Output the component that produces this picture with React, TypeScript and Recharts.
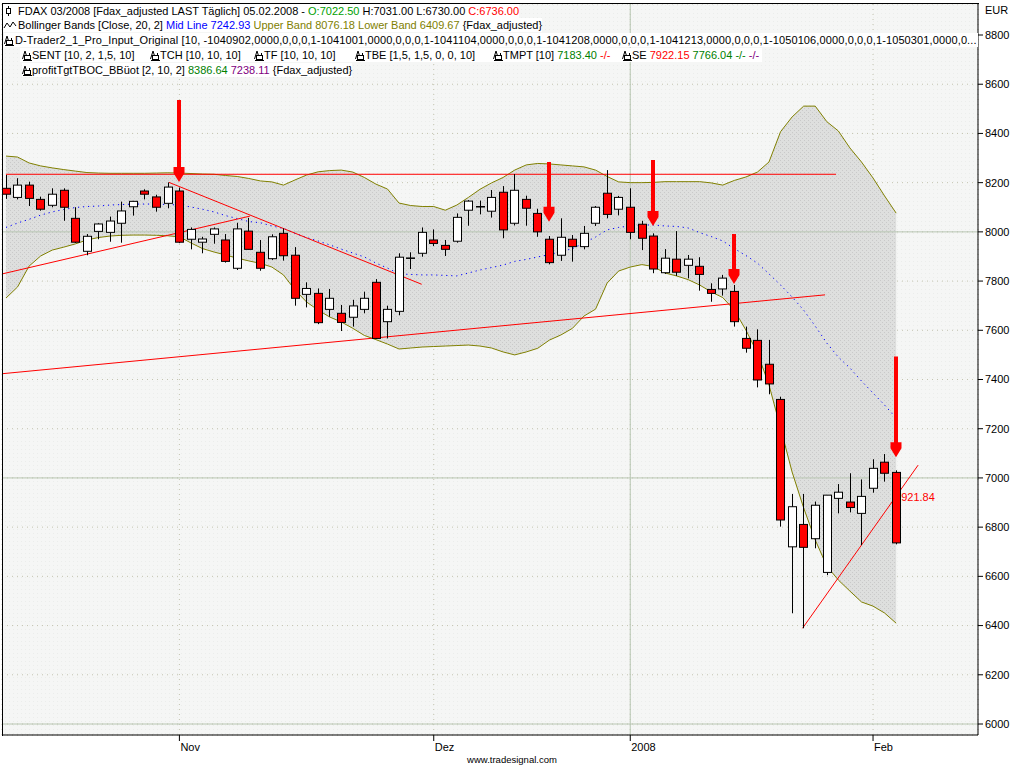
import React from "react";
import {
  ComposedChart,
  Bar,
  Line,
  Area,
  XAxis,
  YAxis,
  CartesianGrid,
  ReferenceLine,
  ReferenceDot,
} from "recharts";

// FDAX 03/2008 daily bars, 11 Oct 2007 .. 05 Feb 2008
const opens = [
  8177, 8140, 8190, 8132, 8108, 8169, 8055, 7921, 8002, 7998, 8035, 8102, 8166, 8142, 8116, 8166,
  7970, 7958, 7990, 7967, 7852, 8003, 7917, 7891, 7994, 7905, 7746, 7750, 7685, 7669, 7653, 7685,
  7795, 7635, 7677, 7894, 7913, 7967, 7945, 7962, 8088, 8103, 8084, 8161, 8035, 8132, 8075, 7970,
  7905, 7970, 7940, 8035, 8157, 8092, 8100, 8031, 7983, 7834, 7889, 7864, 7860, 7766, 7768, 7758,
  7567, 7559, 7462, 7319, 6720, 6811, 6753, 6616, 6917, 6902, 6856, 6958, 7064, 7022.5,
];
const highs = [
  8231, 8218, 8204, 8143, 8177, 8177, 8100, 7991, 8035, 8062, 8123, 8126, 8173, 8151, 8201, 8180,
  8018, 7980, 8018, 7991, 8037, 8057, 7967, 7990, 8014, 7938, 7795, 7770, 7768, 7703, 7724, 7757,
  7808, 7700, 7913, 7917, 8018, 8010, 7967, 8075, 8129, 8127, 8170, 8186, 8235, 8147, 8094, 7983,
  8055, 7987, 8024, 8105, 8251, 8146, 8177, 8045, 7994, 7930, 8003, 7906, 7897, 7791, 7825, 7784,
  7615, 7604, 7561, 7330, 6935, 6935, 6904, 6930, 6975, 7019, 6994, 7076, 7097, 7031,
];
const lows = [
  8134, 8132, 8105, 8086, 8100, 8045, 7955, 7905, 7970, 7960, 7956, 8066, 8132, 8082, 8096, 7954,
  7929, 7913, 7952, 7875, 7845, 7929, 7842, 7886, 7883, 7700, 7693, 7625, 7655, 7597, 7615, 7669,
  7565, 7567, 7661, 7849, 7899, 7942, 7902, 7956, 8025, 8071, 8058, 7974, 8026, 8025, 7980, 7868,
  7882, 7879, 7929, 8024, 8055, 8067, 7970, 7926, 7832, 7829, 7821, 7811, 7761, 7716, 7741, 7615,
  7509, 7368, 7340, 6802, 6450, 6389, 6714, 6605, 6856, 6860, 6727, 6940, 6985, 6730,
];
const closes = [
  8153, 8190, 8136, 8092, 8153, 8100, 7958, 7982, 8032, 8044, 8085, 8124, 8153, 8100, 8182, 7958,
  8010, 7971, 8012, 7880, 8012, 7929, 7852, 7980, 7903, 7730, 7770, 7631, 7730, 7632, 7699, 7730,
  7567, 7685, 7897, 7894, 7998, 7953, 7929, 8059, 8125, 8103, 8140, 8008, 8169, 8096, 8000, 7875,
  7978, 7940, 7994, 8100, 8071, 8140, 7998, 7974, 7849, 7893, 7836, 7889, 7827, 7750, 7812, 7635,
  7527, 7398, 7382, 6829, 6883, 6718, 6889, 6930, 6942, 6880, 6925, 7039, 7019, 6736,
];

// Bollinger Bands [Close, 20, 2]
const upperBand = [
  8308, 8304, 8280, 8268, 8260, 8253, 8247, 8241, 8239, 8238, 8238, 8238, 8238, 8239, 8240, 8239,
  8237, 8235, 8234, 8229, 8225, 8217, 8207, 8203, 8190, 8211, 8231, 8244, 8249, 8251, 8243, 8221,
  8194, 8174, 8117, 8107, 8103, 8103, 8088, 8109, 8140, 8173, 8199, 8221, 8251, 8272, 8278, 8276,
  8272, 8268, 8264, 8251, 8225, 8203, 8200, 8200, 8201, 8204, 8204, 8204, 8204, 8199, 8190, 8209,
  8223, 8243, 8284, 8407, 8467, 8511, 8511, 8448, 8410, 8341, 8284, 8219, 8146, 8076.18,
];
const lowerBand = [
  7731, 7776, 7861, 7902, 7926, 7938, 7951, 7967, 7977, 7983, 7986, 7987, 7987, 7986, 7984, 7980,
  7955, 7932, 7918, 7906, 7893, 7882, 7872, 7857, 7825, 7764, 7715, 7682, 7654, 7634, 7608, 7579,
  7562, 7544, 7524, 7528, 7532, 7534, 7536, 7538, 7540, 7536, 7528, 7512, 7500, 7512, 7527, 7560,
  7581, 7608, 7658, 7686, 7792, 7841, 7857, 7867, 7859, 7833, 7821, 7806, 7784, 7756, 7733, 7682,
  7601, 7508, 7378, 7203, 7024, 6878, 6748, 6642, 6585, 6540, 6496, 6479, 6451, 6409.67,
];
const midLine = [
  8018, 8036, 8051, 8068, 8081, 8091, 8099, 8103, 8105, 8109, 8111, 8113, 8113, 8113, 8111, 8109,
  8101, 8092, 8081, 8066, 8054, 8042, 8037, 8024, 8014, 7994, 7977, 7963, 7947, 7930, 7914, 7898,
  7873, 7853, 7829, 7827, 7825, 7825, 7823, 7821, 7833, 7845, 7855, 7865, 7880, 7888, 7898, 7908,
  7919, 7932, 7955, 7979, 8008, 8018, 8024, 8028, 8028, 8024, 8022, 8016, 7997, 7981, 7963, 7932,
  7904, 7873, 7829, 7784, 7735, 7682, 7617, 7548, 7491, 7447, 7394, 7345, 7296, 7242.93,
];

// signal arrows: bar index, arrow tip price, arrow tail price
const arrowBars = [15, 47, 56, 63, 77];
const arrowTips = [8203, 8041, 8024, 7788, 7084];
const arrowTails = [8536, 8284, 8292, 7991, 7493];

// drawn trend lines: [bar, price] -> [bar, price]
const trendFrom = [[0, 8234], [-0.34, 7829], [14.1, 8201], [-0.34, 7423.5], [68.9, 6389]];
const trendTo = [[71.8, 8234], [21.1, 8064], [35.96, 7787], [70.85, 7744], [78.9, 7052]];

const monthTicks = [15, 37, 54, 75];
const monthLabels = ["Nov", "Dez", "2008", "Feb"];
const priceTicks = [6000, 6200, 6400, 6600, 6800, 7000, 7200, 7400, 7600, 7800, 8000, 8200, 8400, 8600, 8800];
const solidPrices = [8000, 7000, 6000];

const data = opens.map((o, i) => {
  const a = arrowBars.indexOf(i);
  return {
    i,
    o,
    h: highs[i],
    l: lows[i],
    c: closes[i],
    up: upperBand[i],
    lo: lowerBand[i],
    mid: midLine[i],
    arrow: a >= 0 ? [arrowTips[a], arrowTails[a]] : null,
  };
});

const FONT = '"Liberation Sans", Arial, sans-serif';
const X_DOMAIN: [number, number] = [-0.346, 84.08];
const Y_DOMAIN: [number, number] = [5955.3, 8926];

const GREEN = "#008000";
const RED = "#ff0000";
const BLUE = "#0000ff";
const OLIVE = "#808000";
const PURPLE = "#800080";

function Candle(props: any) {
  const { x, y, width, height, payload } = props;
  if (!payload || y == null || isNaN(y)) return null;
  const top = Math.min(y, y + height);
  const bot = Math.max(y, y + height);
  const { o, h, l, c } = payload;
  const k = (bot - top) / (h - l);
  const py = (p: number) => top + (h - p) * k;
  const cx = Math.round(x + width / 2) + 0.5;
  const bTop = py(Math.max(o, c));
  const bBot = py(Math.min(o, c));
  const up = c >= o;
  return (
    <g>
      <line x1={cx} x2={cx} y1={top} y2={bot} stroke="#000" strokeWidth={1} />
      <rect
        x={cx - 4}
        y={bTop}
        width={8}
        height={Math.max(bBot - bTop, 0.5)}
        fill={up ? "#fff" : RED}
        stroke="#000"
        strokeWidth={1}
      />
    </g>
  );
}

function Arrow(props: any) {
  const { x, y, width, height, payload } = props;
  if (!payload || !payload.arrow || y == null || isNaN(y)) return null;
  const top = Math.min(y, y + height);
  const tip = Math.max(y, y + height);
  const cx = Math.round(x + width / 2);
  const pts = [
    [cx - 2, top],
    [cx + 2, top],
    [cx + 2, tip - 15],
    [cx + 5.5, tip - 15],
    [cx + 5.5, tip - 9],
    [cx, tip],
    [cx - 5.5, tip - 9],
    [cx - 5.5, tip - 15],
    [cx - 2, tip - 15],
  ]
    .map((p) => p.join(","))
    .join(" ");
  return <polygon points={pts} fill={RED} />;
}

function MonthTick(props: any) {
  const { x, y, payload } = props;
  const idx = monthTicks.indexOf(payload.value);
  return (
    <text x={x + 1} y={y + 9} fontSize={11} fontFamily={FONT} fill="#000" textAnchor="start">
      {monthLabels[idx]}
    </text>
  );
}

function IconCandle() {
  return (
    <svg width={12} height={12} style={{ display: "block" }}>
      <line x1={5.5} x2={5.5} y1={1} y2={11} stroke="#000" />
      <rect x={3.5} y={3.5} width={4} height={5} fill="#fff" stroke="#000" />
    </svg>
  );
}

function IconWave() {
  return (
    <svg width={14} height={12} style={{ display: "block" }}>
      <polyline points="1,9 4,4 7,8 10,3 13,7" fill="none" stroke="#000" strokeWidth={1} />
    </svg>
  );
}

function IconInd() {
  return (
    <svg width={10} height={12} style={{ display: "block" }}>
      <polyline points="0.5,10 3,2 5.5,10" fill="none" stroke="#000" />
      <rect x={2.5} y={6.5} width={6} height={4} fill="#fff" stroke="#000" />
      <line x1={1} x2={10} y1={11.5} y2={11.5} stroke="#000" />
      <line x1={7.5} x2={7.5} y1={4} y2={6} stroke="#000" />
    </svg>
  );
}

const rowStyle = (top: number, left: number): React.CSSProperties => ({
  position: "absolute",
  top,
  left,
  background: "#fff",
  whiteSpace: "nowrap",
  fontSize: 11,
  lineHeight: "14px",
  height: 14,
  fontFamily: FONT,
  color: "#000",
  display: "flex",
  alignItems: "center",
});

function Header() {
  const items: [number, React.ReactNode][] = [
    [22, <span>SENT [10, 2, 1,5, 10]</span>],
    [150, <span>TCH [10, 10, 10]</span>],
    [254, <span>TF [10, 10, 10]</span>],
    [355, <span>TBE [1,5, 1,5, 0, 0, 10]</span>],
    [
      493,
      <span>
        TMPT [10] <span style={{ color: GREEN }}>7183.40</span> <span style={{ color: RED }}>-/-</span>
      </span>,
    ],
    [
      622,
      <span>
        SE <span style={{ color: RED }}>7922.15</span> <span style={{ color: GREEN }}>7766.04</span>{" "}
        <span style={{ color: GREEN }}>-/-</span> <span style={{ color: PURPLE }}>-/-</span>
      </span>,
    ],
  ];
  return (
    <>
      <div style={rowStyle(4, 3)}>
        <IconCandle />
        <span style={{ marginLeft: 3 }}>
          FDAX 03/2008 [Fdax_adjusted LAST Täglich] 05.02.2008 -{" "}
          <span style={{ color: "#00a000" }}>O:7022.50</span> H:7031.00 L:6730.00{" "}
          <span style={{ color: RED }}>C:6736.00</span>
        </span>
      </div>
      <div style={rowStyle(18, 3)}>
        <IconWave />
        <span style={{ marginLeft: 1 }}>
          Bollinger Bands [Close, 20, 2] <span style={{ color: BLUE }}>Mid Line 7242.93</span>{" "}
          <span style={{ color: OLIVE }}>Upper Band 8076.18 Lower Band 6409.67</span> {"{Fdax_adjusted}"}
        </span>
      </div>
      <div style={{ ...rowStyle(33, 4), width: 974, overflow: "hidden" }}>
        <IconInd />
        <span style={{ marginLeft: 1, letterSpacing: 0.12 }}>
          D-Trader2_1_Pro_Input_Original [10, -1040902,0000,0,0,0,1-1041001,0000,0,0,0,1-1041104,0000,0,0,0,1-1041208,0000,0,0,0,1-1041213,0000,0,0,0,1-1050106,0000,0,0,0,1-1050301,0000,0...
        </span>
      </div>
      <div style={{ ...rowStyle(48, 20), width: 742 }}>
        {items.map(([left, node], k) => (
          <div key={k} style={{ position: "absolute", left: left - 20, top: 0, display: "flex", alignItems: "center", height: 14 }}>
            <IconInd />
            {node}
          </div>
        ))}
      </div>
      <div style={rowStyle(63, 22)}>
        <IconInd />
        <span>
          profitTgtTBOC_BBüot [2, 10, 2] <span style={{ color: GREEN }}>8386.64</span>{" "}
          <span style={{ color: PURPLE }}>7238.11</span> {"{Fdax_adjusted}"}
        </span>
      </div>
      <div style={{ position: "absolute", left: 985, top: 4, fontSize: 11, fontFamily: FONT }}>EUR</div>
    </>
  );
}

export default function App() {
  return (
    <div style={{ position: "absolute", left: 0, top: 0, width: 1024, height: 768, background: "#fff", overflow: "hidden" }}>
      <ComposedChart width={1024} height={768} data={data} margin={{ top: 4, right: 0, bottom: 0, left: 2 }}>
        <defs>
          <pattern id="bandDots" width="4" height="4" patternUnits="userSpaceOnUse">
            <rect width="4" height="4" fill="#dcdcdc" />
            <rect x="0" y="0" width="1" height="1" fill="#c4c4c4" />
            <rect x="2" y="2" width="1" height="1" fill="#c4c4c4" />
          </pattern>
          <pattern id="bgDots" width="4" height="4" patternUnits="userSpaceOnUse">
            <rect width="4" height="4" fill="#f5f6f5" />
            <rect x="1" y="1" width="1" height="1" fill="#ebedeb" />
          </pattern>
        </defs>
        <CartesianGrid stroke="#c4c4b0" strokeDasharray="1 4" fill="url(#bgDots)" />
        <XAxis
          dataKey="i"
          type="number"
          domain={X_DOMAIN}
          allowDataOverflow
          ticks={monthTicks}
          interval={0}
          tick={<MonthTick />}
          tickSize={6}
          tickMargin={1}
          tickLine={{ stroke: "#000" }}
          axisLine={{ stroke: "#000" }}
          height={33}
        />
        <XAxis xAxisId="arr" dataKey="i" type="number" domain={X_DOMAIN} allowDataOverflow hide />
        <YAxis
          orientation="right"
          type="number"
          domain={Y_DOMAIN}
          allowDataOverflow
          ticks={priceTicks}
          interval={0}
          width={46}
          tickSize={5}
          tickMargin={2}
          tick={{ fontSize: 11, fill: "#000", fontFamily: FONT }}
          tickLine={{ stroke: "#000" }}
          axisLine={{ stroke: "#000" }}
        />
        <Area
          dataKey={(d: any) => [d.lo, d.up]}
          type="linear"
          stroke="none"
          fill="url(#bandDots)"
          fillOpacity={0.9}
          isAnimationActive={false}
          zIndex={100}
        />
        {solidPrices.map((p) => (
          <ReferenceLine key={p} y={p} stroke="#b8c6b2" strokeWidth={1} zIndex={150} />
        ))}
        <ReferenceLine x={monthTicks[2]} stroke="#b8c6b2" strokeWidth={1} zIndex={150} />
        <Line dataKey="up" type="linear" stroke={OLIVE} strokeWidth={1} dot={false} isAnimationActive={false} zIndex={200} />
        <Line dataKey="lo" type="linear" stroke={OLIVE} strokeWidth={1} dot={false} isAnimationActive={false} zIndex={200} />
        <Line
          dataKey="mid"
          type="linear"
          stroke={BLUE}
          strokeWidth={1}
          strokeDasharray="1.2 3.8"
          dot={false}
          isAnimationActive={false}
          zIndex={200}
        />
        {trendFrom.map((f, k) => (
          <ReferenceLine
            key={"t" + k}
            segment={[
              { x: f[0], y: f[1] },
              { x: trendTo[k][0], y: trendTo[k][1] },
            ]}
            stroke={RED}
            strokeWidth={1}
            ifOverflow="visible"
            zIndex={250}
          />
        ))}
        <ReferenceDot
          x={77}
          y={6921.84}
          r={0}
          fill="none"
          stroke="none"
          zIndex={260}
          label={{ value: "921.84", position: "right", offset: 5, fill: RED, fontSize: 11, fontFamily: FONT }}
        />
        <Bar
          dataKey={(d: any) => [d.l, d.h]}
          barSize={9}
          shape={<Candle />}
          isAnimationActive={false}
          zIndex={450}
        />
        <Bar
          xAxisId="arr"
          dataKey={(d: any) => d.arrow}
          barSize={11}
          shape={<Arrow />}
          isAnimationActive={false}
          zIndex={460}
        />
      </ComposedChart>
      <div style={{ position: "absolute", left: 2, top: 3, width: 976, height: 732, borderLeft: "1px solid #000", borderTop: "1px solid #000", pointerEvents: "none" }} />
      <Header />
      <div style={{ position: "absolute", left: 0, width: 1024, top: 754, textAlign: "center", fontSize: 9.5, fontFamily: FONT }}>
        www.tradesignal.com
      </div>
    </div>
  );
}
